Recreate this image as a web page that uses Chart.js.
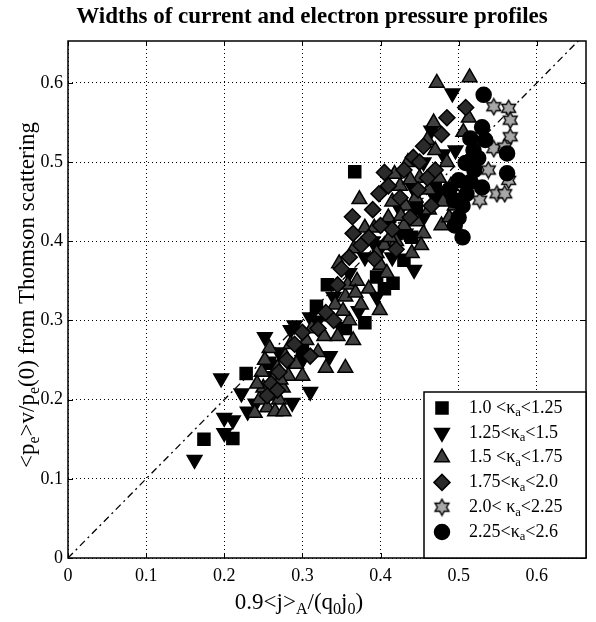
<!DOCTYPE html>
<html>
<head>
<meta charset="utf-8">
<script src="https://cdn.jsdelivr.net/npm/chart.js@4/dist/chart.umd.min.js"></script>
<style>
  html, body { margin: 0; padding: 0; background: #fff; }
  #plot { display: block; }
</style>
</head>
<body>
<canvas id="plot" width="596" height="622"></canvas>
<script>
// [0.9<j>_A/(q0 j0), <pe>v/pe(0)] per elongation bin
const kappa100 = [[0.174,0.150],[0.211,0.151],[0.228,0.233],[0.367,0.488],[0.332,0.345],[0.380,0.297],
  [0.416,0.347],[0.405,0.340],[0.430,0.376],[0.446,0.442],[0.355,0.290],[0.300,0.265],[0.258,0.246],
  [0.395,0.355],[0.470,0.465],[0.440,0.405],[0.318,0.318],[0.420,0.410]];
const kappa125 = [[0.162,0.124],[0.200,0.177],[0.211,0.174],[0.200,0.158],[0.196,0.227],[0.222,0.208],
  [0.252,0.279],[0.285,0.288],[0.287,0.196],[0.310,0.304],[0.290,0.294],[0.443,0.364],[0.492,0.587],
  [0.496,0.515],[0.240,0.195],[0.265,0.230],[0.300,0.250],[0.320,0.300],[0.340,0.330],[0.350,0.290],
  [0.360,0.360],[0.380,0.380],[0.390,0.400],[0.410,0.420],[0.425,0.440],[0.440,0.470],[0.455,0.500],
  [0.470,0.455],[0.480,0.510],[0.415,0.380],[0.395,0.330],[0.270,0.260],[0.310,0.210],[0.335,0.255],
  [0.230,0.185],[0.455,0.430],[0.372,0.312],[0.465,0.540],[0.402,0.395],[0.432,0.410]];
const kappa150 = [[0.239,0.183],[0.245,0.200],[0.250,0.215],[0.255,0.190],[0.260,0.205],[0.262,0.225],
  [0.268,0.240],[0.270,0.200],[0.275,0.215],[0.278,0.255],[0.282,0.230],[0.248,0.235],[0.258,0.265],
  [0.285,0.270],[0.292,0.245],[0.265,0.185],[0.276,0.185],[0.252,0.250],[0.242,0.220],[0.272,0.225],
  [0.300,0.230],[0.305,0.275],[0.312,0.290],[0.320,0.260],[0.328,0.280],[0.335,0.305],[0.342,0.320],
  [0.347,0.372],[0.355,0.330],[0.358,0.345],[0.360,0.300],[0.366,0.391],[0.370,0.350],[0.373,0.453],
  [0.375,0.320],[0.380,0.417],[0.385,0.340],[0.392,0.417],[0.399,0.313],[0.330,0.240],[0.355,0.240],
  [0.365,0.275],[0.345,0.280],[0.352,0.312],[0.368,0.335],
  [0.400,0.370],[0.405,0.395],[0.410,0.430],[0.415,0.450],[0.420,0.400],[0.425,0.470],[0.430,0.420],
  [0.435,0.500],[0.440,0.385],[0.445,0.455],[0.450,0.480],[0.455,0.410],[0.460,0.528],[0.462,0.440],
  [0.468,0.550],[0.472,0.600],[0.475,0.480],[0.478,0.420],[0.480,0.450],[0.485,0.500],[0.490,0.470],
  [0.506,0.538],[0.513,0.556],[0.514,0.607],[0.470,0.515],[0.452,0.395],[0.432,0.445],[0.418,0.485],
  [0.395,0.385],[0.408,0.360],[0.488,0.430],[0.495,0.445],[0.426,0.432],[0.447,0.425],[0.462,0.465],
  [0.412,0.405],[0.438,0.478]];
const kappa175 = [[0.364,0.431],[0.405,0.487],[0.442,0.506],[0.485,0.556],[0.509,0.569],[0.260,0.220],
  [0.270,0.235],[0.280,0.250],[0.255,0.205],[0.290,0.270],[0.300,0.285],[0.310,0.255],[0.320,0.290],
  [0.330,0.310],[0.345,0.345],[0.350,0.365],[0.360,0.380],[0.375,0.395],[0.385,0.405],[0.390,0.440],
  [0.398,0.460],[0.410,0.470],[0.415,0.415],[0.425,0.455],[0.430,0.490],[0.438,0.430],[0.448,0.465],
  [0.455,0.520],[0.460,0.480],[0.465,0.445],[0.470,0.490],[0.478,0.535],[0.420,0.390],[0.400,0.420],
  [0.365,0.410],[0.340,0.300],[0.450,0.500],[0.268,0.212],[0.392,0.378]];
const kappa200 = [[0.545,0.570],[0.564,0.568],[0.566,0.553],[0.566,0.532],[0.545,0.517],[0.559,0.519],
  [0.564,0.477],[0.549,0.460],[0.559,0.460],[0.527,0.452],[0.538,0.490]];
const kappa225 = [[0.532,0.585],[0.530,0.544],[0.534,0.528],[0.519,0.515],[0.509,0.499],[0.500,0.477],
  [0.494,0.452],[0.505,0.405],[0.530,0.468],[0.562,0.486],[0.562,0.511],[0.515,0.530],[0.520,0.490],
  [0.510,0.460],[0.500,0.430],[0.495,0.420],[0.525,0.505],[0.488,0.465],[0.505,0.445],[0.515,0.475]];

const xTicks = [0, 0.1, 0.2, 0.3, 0.4, 0.5, 0.6];
const yTicks = [0, 0.1, 0.2, 0.3, 0.4, 0.5, 0.6];
const diagonal = [0, 0.7];

const legendRows = [
  [['1.0 <κ'], ['a', 'sub'], ['<1.25']],
  [['1.25<κ'], ['a', 'sub'], ['<1.5']],
  [['1.5 <κ'], ['a', 'sub'], ['<1.75']],
  [['1.75<κ'], ['a', 'sub'], ['<2.0']],
  [['2.0< κ'], ['a', 'sub'], ['<2.25']],
  [['2.25<κ'], ['a', 'sub'], ['<2.6']]
];

const SERIF = '"Liberation Serif", "Times New Roman", serif';

// six-point star marker
function hexagram(r) {
  const c = document.createElement('canvas');
  const s = Math.ceil(r * 2 + 3);
  c.width = s; c.height = s;
  const g = c.getContext('2d');
  const cx = s / 2, cy = s / 2, ri = r * 0.58;
  g.beginPath();
  for (let i = 0; i < 12; i++) {
    const a = -Math.PI / 2 + i * Math.PI / 6;
    const rr = i % 2 ? ri : r;
    g.lineTo(cx + rr * Math.cos(a), cy + rr * Math.sin(a));
  }
  g.closePath();
  g.fillStyle = '#a8a8a8';
  g.fill();
  g.lineWidth = 1.4;
  g.strokeStyle = '#000';
  g.stroke();
  return c;
}
const star = hexagram(8);

const toPts = arr => arr.map(([x, y]) => ({ x, y }));

const markers = [
  { data: kappa100, pointStyle: 'rect', radius: 8.5, bg: '#000' },
  { data: kappa125, pointStyle: 'triangle', rotation: 180, radius: 8.5, bg: '#000' },
  { data: kappa150, pointStyle: 'triangle', radius: 8.5, bg: '#404040' },
  { data: kappa175, pointStyle: 'rectRot', radius: 8, bg: '#2a2a2a' },
  { data: kappa200, pointStyle: star, radius: 8, bg: '#a8a8a8' },
  { data: kappa225, pointStyle: 'circle', radius: 7.5, bg: '#000' }
];

const datasets = markers.map((m, i) => ({
  type: 'scatter',
  data: toPts(m.data),
  pointStyle: m.pointStyle,
  rotation: m.rotation || 0,
  pointRadius: m.radius,
  backgroundColor: m.bg,
  borderColor: '#000',
  borderWidth: 1.5,
  order: 6 - i
}));

// y = x reference line
datasets.push({
  type: 'line',
  data: diagonal.map(v => ({ x: v, y: v })),
  borderColor: '#000',
  borderWidth: 1.3,
  borderDash: [7, 4, 2, 4],
  pointRadius: 0,
  fill: false,
  order: 10
});

function richText(ctx, parts, x, y, size, align) {
  const widths = parts.map(([t, k]) => {
    ctx.font = `${k === 'sub' ? size * 0.7 : size}px ${SERIF}`;
    return ctx.measureText(t).width;
  });
  const total = widths.reduce((a, b) => a + b, 0);
  let cx = align === 'center' ? x - total / 2 : x;
  ctx.textAlign = 'left';
  ctx.textBaseline = 'middle';
  parts.forEach(([t, k], i) => {
    ctx.font = `${k === 'sub' ? size * 0.7 : size}px ${SERIF}`;
    ctx.fillText(t, cx, k === 'sub' ? y + size * 0.28 : y);
    cx += widths[i];
  });
}

const decorations = {
  id: 'decorations',
  afterDatasetsDraw(chart) {
    const { ctx, chartArea: a, scales } = chart;
    ctx.save();
    ctx.strokeStyle = '#000';
    ctx.lineWidth = 1.5;
    ctx.strokeRect(a.left, a.top, a.right - a.left, a.bottom - a.top);
    // inward tick marks on all four sides
    ctx.lineWidth = 1;
    ctx.beginPath();
    xTicks.forEach(v => {
      const px = Math.round(scales.x.getPixelForValue(v)) + 0.5;
      ctx.moveTo(px, a.bottom); ctx.lineTo(px, a.bottom - 5);
      ctx.moveTo(px, a.top); ctx.lineTo(px, a.top + 5);
    });
    yTicks.forEach(v => {
      const py = Math.round(scales.y.getPixelForValue(v)) + 0.5;
      ctx.moveTo(a.left, py); ctx.lineTo(a.left + 5, py);
      ctx.moveTo(a.right, py); ctx.lineTo(a.right - 5, py);
    });
    ctx.stroke();
    ctx.restore();
  },
  afterDraw(chart) {
    const { ctx, chartArea: a } = chart;
    ctx.save();
    ctx.fillStyle = '#000';

    // title
    ctx.font = `bold 23px ${SERIF}`;
    ctx.textAlign = 'center';
    ctx.textBaseline = 'middle';
    ctx.fillText('Widths of current and electron pressure profiles', 312, 17);

    // axis titles
    richText(ctx, [['0.9<j>'], ['A', 'sub'], ['/(q'], ['0', 'sub'], ['j'], ['0', 'sub'], [')']],
      299, 603, 23, 'center');
    ctx.save();
    ctx.translate(28, 295);
    ctx.rotate(-Math.PI / 2);
    richText(ctx, [['<p'], ['e', 'sub'], ['>v/p'], ['e', 'sub'], ['(0) from Thomson scattering']],
      0, 0, 23, 'center');
    ctx.restore();

    // legend box
    const box = { left: 424, top: 392, right: a.right, bottom: a.bottom };
    ctx.fillStyle = '#fff';
    ctx.fillRect(box.left, box.top, box.right - box.left, box.bottom - box.top);
    ctx.strokeStyle = '#000';
    ctx.lineWidth = 1.5;
    ctx.strokeRect(box.left, box.top, box.right - box.left, box.bottom - box.top);

    const drawPoint = Chart.helpers && Chart.helpers.drawPoint;
    legendRows.forEach((row, i) => {
      const y = 408 + i * 24.8;
      const m = markers[i];
      ctx.fillStyle = m.bg;
      ctx.strokeStyle = '#000';
      ctx.lineWidth = 1.5;
      if (drawPoint) {
        drawPoint(ctx, { pointStyle: m.pointStyle, radius: m.radius, rotation: m.rotation || 0, borderWidth: 1.5 }, 442, y);
      }
      ctx.fillStyle = '#000';
      richText(ctx, row, 469, y, 18, 'left');
    });
    ctx.restore();
  }
};

const tickFont = { family: SERIF, size: 18 };

new Chart(document.getElementById('plot'), {
  data: { datasets },
  options: {
    responsive: false,
    animation: false,
    events: [],
    devicePixelRatio: 1,
    layout: { padding: { top: 41, right: 4, left: 0, bottom: 0 } },
    plugins: { legend: { display: false }, tooltip: { enabled: false } },
    scales: {
      x: {
        type: 'linear',
        position: 'bottom',
        min: 0,
        max: 0.663,
        afterFit: s => { s.height = 64; },
        afterBuildTicks: s => { s.ticks = xTicks.map(v => ({ value: v })); },
        ticks: {
          font: tickFont,
          color: '#000',
          padding: 7,
          maxRotation: 0,
          callback: v => (v === 0 ? '0' : v.toFixed(1))
        },
        grid: { color: '#000', lineWidth: 1, drawTicks: false },
        border: { display: false, dash: [1, 3] }
      },
      y: {
        type: 'linear',
        min: 0,
        max: 0.653,
        afterFit: s => { s.width = 68; },
        afterBuildTicks: s => { s.ticks = yTicks.map(v => ({ value: v })); },
        ticks: {
          font: tickFont,
          color: '#000',
          padding: 5,
          callback: v => (v === 0 ? '0' : v.toFixed(1))
        },
        grid: { color: '#000', lineWidth: 1, drawTicks: false },
        border: { display: false, dash: [1, 3] }
      }
    }
  },
  plugins: [decorations]
});
</script>
</body>
</html>
